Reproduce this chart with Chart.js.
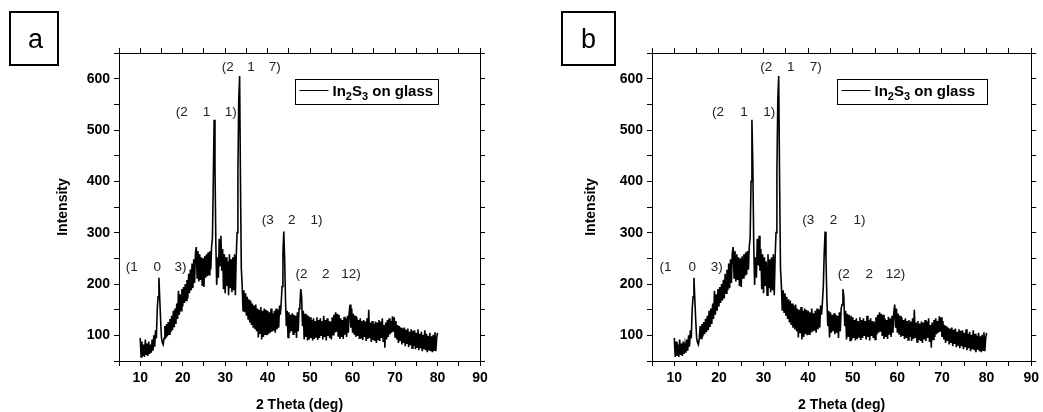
<!DOCTYPE html>
<html>
<head>
<meta charset="utf-8">
<title>In2S3 XRD</title>
<script src="https://cdn.jsdelivr.net/npm/chart.js@4.4.1/dist/chart.umd.min.js"></script>
<style>
  body { margin: 0; width: 1043px; height: 412px; background: #fff; overflow: hidden; position: relative;
         font-family: "Liberation Sans", Arial, sans-serif; }
  .panel { position: absolute; top: 0; height: 412px; }
  #wrap-a { left: 0; width: 520px; }
  #wrap-b { left: 520px; width: 523px; }
  .tag { position: absolute; top: 11px; width: 46px; height: 51px; border: 2px solid #000;
         font-size: 27px; line-height: 52px; text-align: center; color: #000; }
  #tag-a { left: 9px; padding-left: 3px; width: 43px; }
  #tag-b { left: 561px; width: 51px; }
</style>
</head>
<body>
<div class="panel" id="wrap-a"><canvas id="chart-a"></canvas></div>
<div class="panel" id="wrap-b"><canvas id="chart-b"></canvas></div>
<div class="tag" id="tag-a">a</div>
<div class="tag" id="tag-b">b</div>
<script>
// scan: 2theta from 10 deg in 0.2 deg steps
const theta0 = 10;
const thetaStep = 0.2;

// intensity, one block per 10 deg
const int10 = [95, 58, 88, 60, 82, 58, 92, 62, 84, 60, 88, 64, 82, 66, 92, 70, 100, 78, 110, 94,
  150, 175, 212, 170, 130, 95, 86, 82, 94, 118, 94, 122, 98, 126, 102, 132, 106, 138, 110, 148,
  116, 152, 122, 162, 132, 187, 140, 180, 148, 190];
const int20 = [156, 194, 163, 200, 168, 208, 172, 220, 182, 228, 188, 240, 192, 248, 202, 260, 272, 212, 264, 205,
  258, 208, 252, 196, 250, 194, 254, 212, 258, 215, 262, 218, 264, 228, 272, 290, 400, 520, 430, 280,
  198, 252, 212, 288, 236, 294, 226, 268, 190, 258];
const int30 = [182, 252, 196, 244, 178, 258, 192, 248, 184, 252, 188, 258, 178, 252, 300, 420, 560, 605, 400, 230,
  198, 148, 188, 145, 182, 138, 175, 132, 170, 125, 168, 120, 162, 115, 158, 112, 160, 108, 152, 96,
  150, 104, 155, 92, 148, 97, 152, 102, 150, 100];
const int40 = [148, 102, 145, 105, 152, 107, 143, 109, 148, 105, 152, 112, 150, 115, 158, 140, 165, 195, 260, 302,
  250, 170, 118, 148, 96, 145, 105, 140, 108, 143, 102, 140, 105, 138, 95, 145, 108, 152, 160, 190,
  175, 118, 148, 92, 142, 97, 140, 90, 138, 92];
const int50 = [135, 95, 130, 90, 133, 93, 128, 97, 135, 91, 130, 95, 133, 99, 128, 92, 138, 97, 130, 90,
  133, 99, 128, 95, 127, 92, 135, 101, 140, 105, 145, 107, 142, 99, 140, 93, 133, 97, 130, 93,
  136, 101, 133, 97, 138, 105, 145, 160, 115, 152];
const int60 = [105, 142, 101, 138, 97, 135, 99, 130, 93, 133, 95, 128, 91, 130, 97, 127, 89, 133, 93, 150,
  95, 125, 87, 128, 91, 123, 89, 127, 85, 125, 92, 130, 89, 127, 95, 133, 87, 120, 76, 125,
  92, 130, 97, 133, 102, 128, 105, 137, 107, 135];
const int70 = [97, 128, 92, 120, 85, 118, 89, 115, 82, 113, 85, 115, 79, 111, 83, 113, 77, 107, 81, 112,
  75, 109, 79, 110, 73, 105, 77, 112, 71, 103, 75, 107, 69, 101, 73, 110, 71, 103, 67, 99,
  72, 105, 69, 98, 67, 101, 71, 106, 69, 95];
const int80 = [105];

// peak indices (h k l), each number centred on its own 2theta
const hklLabels = [
  { parts: ['(1', '0', '3)'], x: [8.0, 14.0, 19.5], y: 232 },
  { parts: ['(2', '1', '1)'], x: [19.8, 25.6, 31.3], y: 535 },
  { parts: ['(2', '1', '7)'], x: [30.6, 36.1, 41.7], y: 622 },
  { parts: ['(3', '2', '1)'], x: [40.0, 45.7, 51.5], y: 324 },
  { parts: ['(2', '2', '12)'], x: [48.0, 53.7, 59.6], y: 218 },
];

const legendBox = { x0: 46.5, x1: 80, y0: 599, y1: 551 };

const intensity = [].concat(int10, int20, int30, int40, int50, int60, int70, int80);
const points = intensity.map((v, i) => ({ x: Math.round((theta0 + i * thetaStep) * 10) / 10, y: v }));

const FONT = '"Liberation Sans", Arial, sans-serif';

const decor = {
  id: 'decor',
  afterDatasetsDraw(chart) {
    const { ctx } = chart;
    const x = chart.scales.x;
    const y = chart.scales.y;
    ctx.save();
    ctx.fillStyle = '#222';
    ctx.font = '13.5px ' + FONT;
    ctx.textAlign = 'center';
    ctx.textBaseline = 'middle';
    hklLabels.forEach((l) => {
      l.parts.forEach((p, i) => ctx.fillText(p, x.getPixelForValue(l.x[i]), y.getPixelForValue(l.y)));
    });

    // legend with sub scripts
    const left = Math.round(x.getPixelForValue(legendBox.x0)) + 0.5;
    const right = Math.round(x.getPixelForValue(legendBox.x1)) + 0.5;
    const top = Math.round(y.getPixelForValue(legendBox.y0)) + 0.5;
    const bottom = Math.round(y.getPixelForValue(legendBox.y1)) + 0.5;
    ctx.strokeStyle = '#000';
    ctx.lineWidth = 1;
    ctx.strokeRect(left, top, right - left, bottom - top);
    ctx.beginPath();
    ctx.moveTo(left + 4, top + 11);
    ctx.lineTo(left + 33, top + 11);
    ctx.stroke();

    ctx.fillStyle = '#000';
    ctx.textAlign = 'left';
    ctx.textBaseline = 'alphabetic';
    const runs = [['In', 0], ['2', 1], ['S', 0], ['3', 1], [' on glass', 0]];
    let tx = left + 37;
    const base = top + 16;
    runs.forEach(([t, sub]) => {
      ctx.font = 'bold ' + (sub ? 11 : 15) + 'px ' + FONT;
      ctx.fillText(t, tx, base + (sub ? 4 : 0));
      tx += ctx.measureText(t).width;
    });
    ctx.restore();
  },
};

function fixWidth(w) { return (scale) => { scale.width = w; }; }
function fixHeight(h) { return (scale) => { scale.height = h; }; }

function makePanel(id, g) {
  const tickFont = { family: FONT, size: 14, weight: 'bold' };
  const titleFont = { family: FONT, size: 14, weight: 'bold' };
  const grid = { drawOnChartArea: false, drawTicks: true, tickLength: 5, color: '#000', tickColor: '#000' };
  const border = { display: true, color: '#000', width: 1 };
  return new Chart(document.getElementById(id), {
    type: 'line',
    data: {
      datasets: [{
        label: 'In2S3 on glass',
        data: points,
        borderColor: '#000',
        borderWidth: 1.6,
        pointRadius: 0,
        tension: 0,
        fill: false,
      }],
    },
    options: {
      responsive: true,
      maintainAspectRatio: false,
      animation: false,
      events: [],
      layout: { padding: { left: g.padLeft, right: g.padRight, top: 53, bottom: 0 } },
      plugins: { legend: { display: false }, tooltip: { enabled: false } },
      scales: {
        x: {
          type: 'linear', position: 'bottom', min: 5, max: 90,
          afterFit: fixHeight(51),
          grid, border,
          ticks: {
            stepSize: 5, autoSkip: false, maxRotation: 0, padding: 4, color: '#000', font: tickFont,
            callback: (v) => (v % 10 === 0 ? v : ''),
          },
          title: { display: true, text: '2 Theta (deg)', color: '#000', font: titleFont, padding: { top: 0, bottom: -2 } },
        },
        x2: {
          type: 'linear', position: 'top', min: 5, max: 90,
          afterFit: fixHeight(0),
          grid, border,
          ticks: { stepSize: 5, autoSkip: false, display: false },
        },
        y: {
          type: 'linear', position: 'left', min: 50, max: 650,
          afterFit: fixWidth(g.yWidth),
          grid, border,
          ticks: {
            stepSize: 50, autoSkip: false, padding: 4, color: '#000', font: tickFont,
            callback: (v) => (v % 100 === 0 && v <= 600 ? v : ''),
          },
          title: { display: true, text: 'Intensity', color: '#000', font: titleFont, padding: { top: 4, bottom: 0 } },
        },
        y2: {
          type: 'linear', position: 'right', min: 50, max: 650,
          afterFit: fixWidth(0),
          grid, border,
          ticks: { stepSize: 50, autoSkip: false, display: false },
        },
      },
    },
    plugins: [decor],
  });
}

makePanel('chart-a', { padLeft: 51, yWidth: 68, padRight: 40 });
makePanel('chart-b', { padLeft: 59, yWidth: 73, padRight: 11 });
</script>
</body>
</html>
